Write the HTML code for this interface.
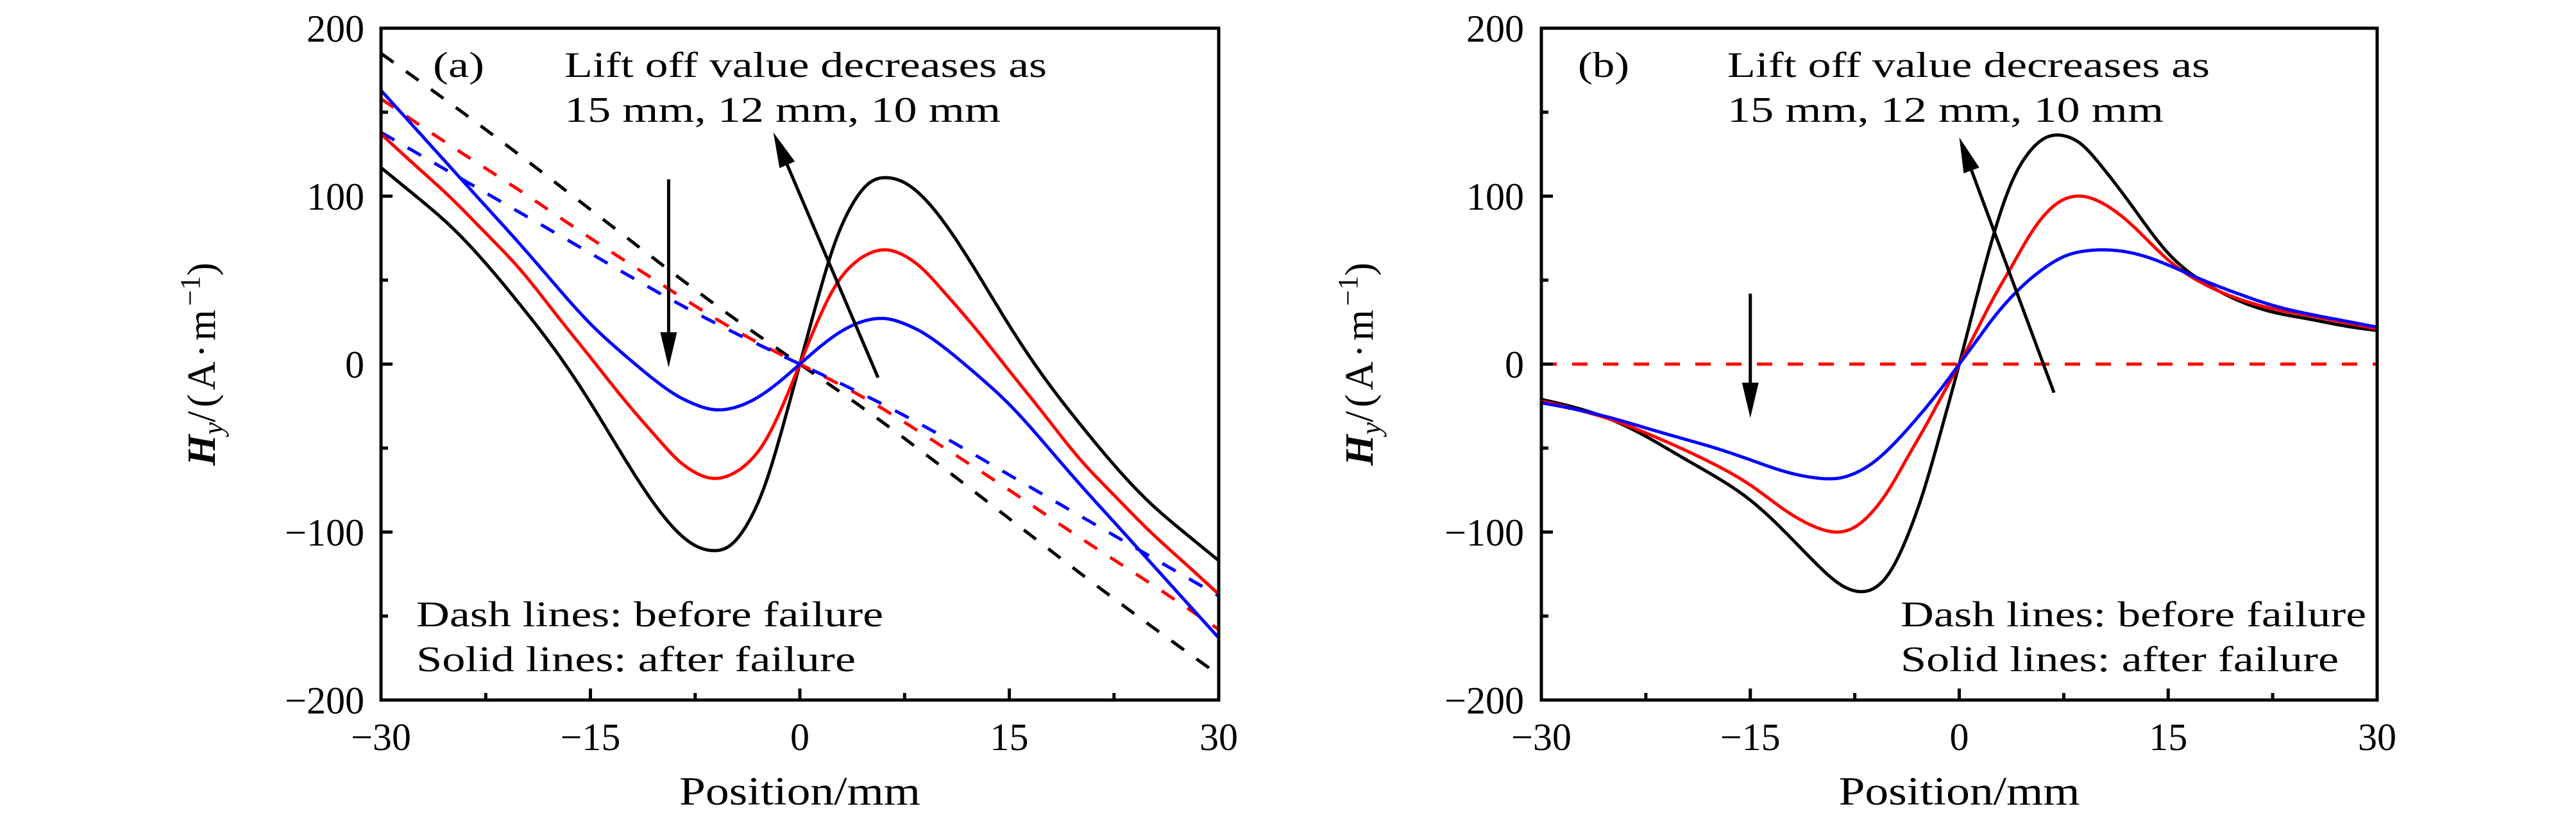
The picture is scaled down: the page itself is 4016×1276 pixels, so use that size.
<!DOCTYPE html>
<html><head><meta charset="utf-8"><style>
html,body{margin:0;padding:0;background:#fff;}
svg{display:block;font-family:"Liberation Serif",serif;}
</style></head><body>
<svg id="fig" width="4016" height="1276" viewBox="0 0 4016 1276"></svg>
<script>
// ---- data (panel a) ----
const xsA = [-30,-27.5,-25,-22.5,-20,-17.5,-15,-12.5,-10,-8.75,-7.5,-6.25,-5,-3.75,-2.5,-1.25,0,1.25,2.5,3.75,5,6.25,7.5,8.75,10,12.5,15,17.5,20,22.5,25,27.5,30];
const aBlackSolid = [117,100,82,60,35,8,-23,-57,-88,-100,-108,-111,-108,-95,-72,-38,0,38,72,95,108,111,108,100,88,57,23,-8,-35,-60,-82,-100,-117];
const aRedSolid   = [137,118,99,78,56,30,4,-22,-46,-57,-64.5,-68,-66,-59,-46,-25,0,25,46,59,66,68,64.5,57,46,22,-4,-30,-56,-78,-99,-118,-137];
const aBlueSolid  = [163,140,117,94,71,47,24,5,-12,-19,-24,-27,-26.5,-23,-17,-9,0,9,17,23,26.5,27,24,19,12,-5,-24,-47,-71,-94,-117,-140,-163];
const xsDash = [-30,-25,-20,-15,-10,-5,0,5,10,15,20,25,30];
const aBlackDash = [185,155,124,92,60,29,0,-29,-60,-92,-124,-155,-185];
const aRedDash   = [158,130,103,75,48,22,0,-22,-48,-75,-103,-130,-158];
const aBlueDash  = [138,114,90,66,42,20,0,-20,-42,-66,-90,-114,-138];
// ---- data (panel b) ----
const xsB = [-30,-27.5,-25,-22.5,-20,-17.5,-15,-12.5,-10,-8.75,-7.5,-6.25,-5,-3.75,-2.5,-1.25,0,1.25,2.5,3.75,5,6.25,7.5,8.75,10,12.5,15,17.5,20,22.5,25,27.5,30];
const bBlackSolid = [-21,-26,-33,-43,-55,-67,-81,-100,-121,-130,-135,-134,-124,-103,-74,-38,0,40,78,108,126,135,136,131,120,93,66,49,38,31,27,23,20];
const bRedSolid   = [-22,-27,-33,-41,-50,-60,-72,-87,-98,-100,-97,-88,-74,-56,-38,-19,0,20,40,58,76,90,98,100,97,82,62,48,39,33,29,25,21];
const bBlueSolid  = [-23,-27,-32,-38,-44,-50,-57,-64,-68,-68,-65,-59,-50,-39,-27,-14,0,14,28,40,50,58,64,67,68,66,59,50,42,35,30,26,22];
const bDashX = [-30,30];
const bRedDash = [0,0];
const xTicks = [-30,-15,0,15,30];
const xTickLabels = ["\u221230","\u221215","0","15","30"];
const yTicks = [-200,-100,0,100,200];
const yTickLabels = ["\u2212200","\u2212100","0","100","200"];

const NS="http://www.w3.org/2000/svg";
const svg=document.getElementById('fig');
function el(tag,attrs,parent,text){const e=document.createElementNS(NS,tag);for(const k in attrs)e.setAttribute(k,attrs[k]);if(text!==undefined)e.textContent=text;(parent||svg).appendChild(e);return e;}

function panel(id,x0,x1,y0,y1){
  const g=el('g',{});
  
  
  const sx=v=>x0+(v+30)/60*(x1-x0);
  const sy=v=>y1-(v+200)/400*(y1-y0);
  return {g,sx,sy,x0,x1,y0,y1};
}
function splinePath(P,xs,ys){
  const n=xs.length;
  if(n<3){return 'M'+xs.map((x,i)=>P.sx(x)+','+P.sy(ys[i])).join(' L');}
  const h=[],al=[],l=[1],mu=[0],z=[0],c=new Array(n).fill(0),b=[],d=[];
  for(let i=0;i<n-1;i++)h.push(xs[i+1]-xs[i]);
  for(let i=1;i<n-1;i++)al[i]=3/h[i]*(ys[i+1]-ys[i])-3/h[i-1]*(ys[i]-ys[i-1]);
  for(let i=1;i<n-1;i++){l[i]=2*(xs[i+1]-xs[i-1])-h[i-1]*mu[i-1];mu[i]=h[i]/l[i];z[i]=(al[i]-h[i-1]*z[i-1])/l[i];}
  for(let j=n-2;j>=0;j--){c[j]=z[j]-mu[j]*c[j+1];b[j]=(ys[j+1]-ys[j])/h[j]-h[j]*(c[j+1]+2*c[j])/3;d[j]=(c[j+1]-c[j])/(3*h[j]);}
  let pts=[];
  for(let j=0;j<n-1;j++){
    const steps=20;
    for(let k=0;k<steps;k++){const t=h[j]*k/steps;pts.push([P.sx(xs[j]+t),P.sy(ys[j]+b[j]*t+c[j]*t*t+d[j]*t*t*t)]);}
  }
  pts.push([P.sx(xs[n-1]),P.sy(ys[n-1])]);
  return 'M'+pts.map(p=>p[0].toFixed(1)+','+p[1].toFixed(1)).join(' L');
}
function series(P,name,xs,ys,color,dash){
  const a={d:splinePath(P,xs,ys),fill:'none',stroke:color,'stroke-width':5,'stroke-linejoin':'round'};
  if(dash)a['stroke-dasharray']='24,24';
  const p=el('path',a,P.g);
  
  
}
function axes(P,ylabX,titleX){
  const g=P.g;
  xTicks.forEach((v,i)=>{
    const t=el('text',{x:P.sx(v),y:1170,'font-size':60,'text-anchor':'middle'},g,xTickLabels[i]);
    
    
  });
  for(let v=-30;v<=30;v+=7.5){
    const L=(v%15===0)?18:11;
    el('line',{x1:P.sx(v),x2:P.sx(v),y1:P.y1,y2:P.y1-L,stroke:'#000','stroke-width':5},g);
  }
  yTicks.forEach((v,i)=>{
    const t=el('text',{x:ylabX,y:P.sy(v)+21,'font-size':60,'text-anchor':'end'},g,yTickLabels[i]);
    
    
  });
  for(let v=-200;v<=200;v+=50){
    const L=(v%100===0)?18:11;
    el('line',{x1:P.x0,x2:P.x0+L,y1:P.sy(v),y2:P.sy(v),stroke:'#000','stroke-width':5},g);
  }
  const xt=el('text',{x:(P.x0+P.x1)/2,y:1255,'font-size':62,'text-anchor':'middle',textLength:376,lengthAdjust:'spacingAndGlyphs'},g,'Position/mm');
  
  
  const yt=el('text',{x:0,y:0,'font-size':62,'text-anchor':'middle',transform:'translate('+titleX+','+((P.y0+P.y1)/2)+') rotate(-90)'},g);
  
  
  el('tspan',{'font-style':'italic','font-weight':'bold'},yt,'H');
  el('tspan',{'font-style':'italic','font-size':44,dy:12},yt,'y');
  el('tspan',{dy:-12,'letter-spacing':6},yt,'/(A\u00B7m');
  el('tspan',{'font-size':44,dy:-24},yt,'\u22121');
  el('tspan',{dy:24},yt,')');
}
function frame(P){
  const r=el('rect',{x:P.x0,y:P.y0,width:P.x1-P.x0,height:P.y1-P.y0,fill:'none',stroke:'#000','stroke-width':5},P.g);
  
  
}
function arrow(P,name,xa,ya,xb,yb){
  const X1=P.sx(xa),Y1=P.sy(ya),X2=P.sx(xb),Y2=P.sy(yb);
  const ang=Math.atan2(Y2-Y1,X2-X1),L=55,W=13;
  const bx=X2-L*Math.cos(ang),by=Y2-L*Math.sin(ang);
  const g=el('g',{},P.g);
  
  
  el('line',{x1:X1,y1:Y1,x2:bx,y2:by,stroke:'#000','stroke-width':5},g);
  const px=-Math.sin(ang)*W,py=Math.cos(ang)*W;
  el('polygon',{points:`${X2},${Y2} ${bx+px},${by+py} ${bx-px},${by-py}`,fill:'#000'},g);
}
function label(P,name,x,y,txt,len){
  const t=el('text',{x:x,y:y,'font-size':56,textLength:len,lengthAdjust:'spacingAndGlyphs'},P.g,txt);
  
  
}

// Panel (a)
const A=panel('a',594,1900,44,1092);
series(A,'a-black-dash',xsDash,aBlackDash,'#000',true);
series(A,'a-red-dash',xsDash,aRedDash,'#f00',true);
series(A,'a-blue-dash',xsDash,aBlueDash,'#00f',true);
series(A,'a-black-solid',xsA,aBlackSolid,'#000',false);
series(A,'a-red-solid',xsA,aRedSolid,'#f00',false);
series(A,'a-blue-solid',xsA,aBlueSolid,'#00f',false);
frame(A);
axes(A,568,335);
arrow(A,'arrow-down-a',-9.4,110,-9.4,-2);
arrow(A,'arrow-diag-a',5.6,-8,-1.9,138);
label(A,'panel-label-a',675,120,'(a)',80);
label(A,'annotation-line1-a',880,120,'Lift off value decreases as',752);
label(A,'annotation-line2-a',880,190,'15 mm, 12 mm, 10 mm',680);
label(A,'legend-dash-a',649,977,'Dash lines: before failure',728);
label(A,'legend-solid-a',649,1047,'Solid lines: after failure',685);

// Panel (b)
const B=panel('b',2403,3706,44,1092);
series(B,'b-red-dash',bDashX,bRedDash,'#f00',true);
series(B,'b-black-solid',xsB,bBlackSolid,'#000',false);
series(B,'b-red-solid',xsB,bRedSolid,'#f00',false);
series(B,'b-blue-solid',xsB,bBlueSolid,'#00f',false);
frame(B);
axes(B,2376,2140);
arrow(B,'arrow-down-b',-15,42,-15,-32);
arrow(B,'arrow-diag-b',6.8,-17,0,135);
label(B,'panel-label-b',2460,120,'(b)',80);
label(B,'annotation-line1-b',2693,120,'Lift off value decreases as',752);
label(B,'annotation-line2-b',2693,190,'15 mm, 12 mm, 10 mm',680);
label(B,'legend-dash-b',2963,977,'Dash lines: before failure',726);
label(B,'legend-solid-b',2963,1047,'Solid lines: after failure',683);
svg.appendChild(A.g);svg.appendChild(B.g);
</script>
</body></html>
